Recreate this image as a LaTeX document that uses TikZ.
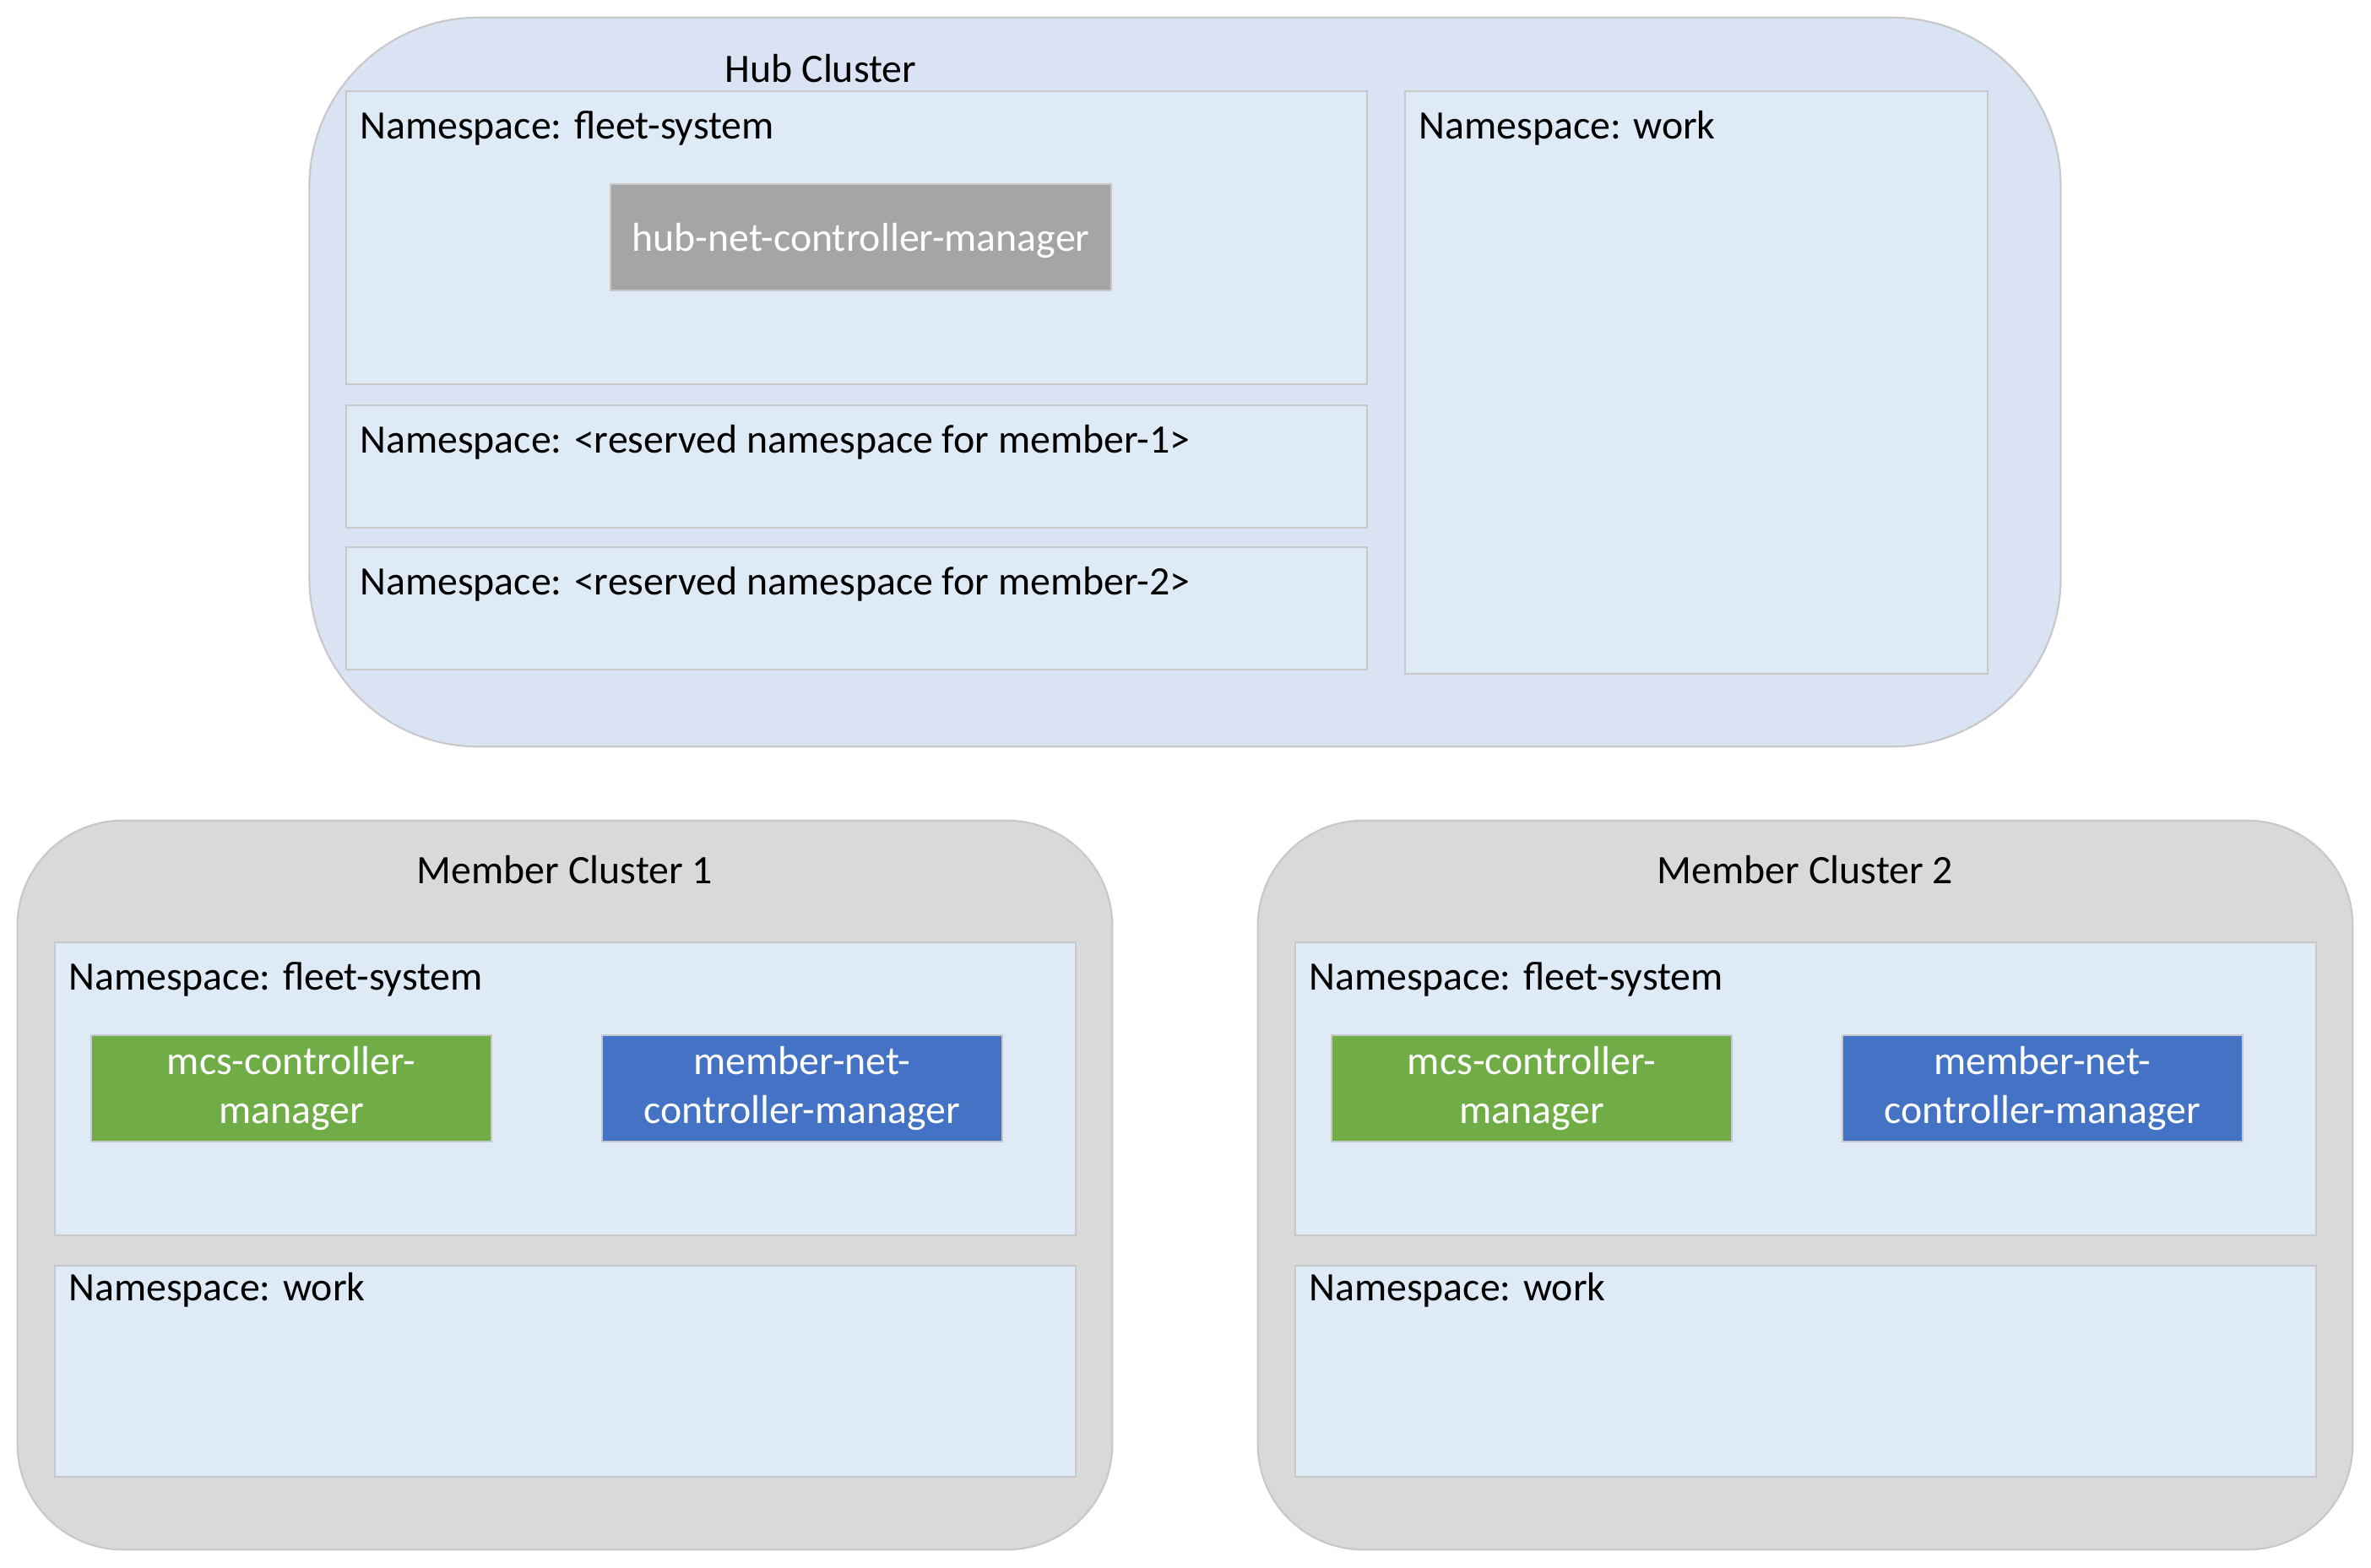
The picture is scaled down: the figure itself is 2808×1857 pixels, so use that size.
\documentclass[tikz,border=0pt]{standalone}
\usepackage{fontspec}
\setmainfont{Carlito}
\definecolor{hubfill}{HTML}{DAE3F3}
\definecolor{nsfill}{HTML}{DEEBF7}
\definecolor{memberfill}{HTML}{D9D9D9}
\definecolor{edgegray}{HTML}{C8C8C8}
\definecolor{podgray}{HTML}{A5A5A5}
\definecolor{podgreen}{HTML}{70AD47}
\definecolor{podblue}{HTML}{4472C4}

\begin{document}
\begin{tikzpicture}[x=0.01cm, y=-0.01cm,
			font=\fontsize{13.6}{16.6}\selectfont,
			clusterbox/.style={
				rectangle,
				draw = edgegray,
				line width = 0.6pt},
			nsbox/.style={
				rectangle,
				draw = edgegray,
				fill = nsfill,
				line width = 0.6pt,
				minimum width = 12.09cm},
			nslabel/.style={
				anchor = base west,
				inner sep = 0pt},
			podbox/.style={
				rectangle,
				draw = edgegray,
				line width = 0.4pt,
				text = white,
				align = center,
				inner sep = 0pt,
				execute at begin node = \rule{0pt}{1.15em},
				minimum width = 4.74cm,
				minimum height = 1.26cm}]
			\useasboundingbox (0, 0) rectangle (2808, 1857);
			% hub cluster
			\node[clusterbox, fill=hubfill, rounded corners=2cm,
				minimum width=20.73cm, minimum height=8.63cm] (hub) at (1403.5, 452.5) {};
			\node[anchor=base] (hubtitle) at (972, 97) {Hub Cluster};
			\node[nsbox, minimum height=3.47cm] (hubfleet) at (1014.5, 281.5) {};
			\node[nslabel] (hubfleetlabel) at ([shift={(17, 58)}]hubfleet.north west) {Namespace: fleet-system};
			\node[podbox, fill=podgray, minimum width=5.93cm,
				text height=0.43cm, text depth=0.1cm] (hubnet) at (1019.5, 281) {hub-net-controller-manager};
			\node[nsbox, minimum height=1.45cm] (hubres1) at (1014.5, 552.5) {};
			\node[nslabel] (hubres1label) at ([shift={(17, 58)}]hubres1.north west) {Namespace: <reserved namespace for member-1>};
			\node[nsbox, minimum height=1.45cm] (hubres2) at (1014.5, 720.5) {};
			\node[nslabel] (hubres2label) at ([shift={(17, 58)}]hubres2.north west) {Namespace: <reserved namespace for member-2>};
			\node[nsbox, minimum width=6.90cm, minimum height=6.90cm] (hubwork) at (2009, 453) {};
			\node[nslabel] (hubworklabel) at ([shift={(17, 58)}]hubwork.north west) {Namespace: work};
			% member clusters
			\foreach \i/\dx in {1/0, 2/1469} {
				\node[clusterbox, fill=memberfill, rounded corners=1.25cm,
					minimum width=12.96cm, minimum height=8.63cm] (m\i) at (669+\dx, 1403.5) {};
				\node[anchor=base] (m\i title) at (669+\dx, 1046) {Member Cluster \i};
				\node[nsbox, minimum height=3.47cm] (m\i fleet) at (669.5+\dx, 1289.5) {};
				\node[nslabel] (m\i fleetlabel) at ([shift={(17, 58)}]m\i fleet.north west) {Namespace: fleet-system};
				\node[podbox, fill=podgreen] (m\i mcs) at (345+\dx, 1289) {mcs-controller-\\manager};
				\node[podbox, fill=podblue] (m\i net) at (950+\dx, 1289) {member-net-\\controller-manager};
				\node[nsbox, minimum height=2.50cm] (m\i work) at (669.5+\dx, 1624) {};
				\node[nslabel] (m\i worklabel) at ([shift={(17, 43)}]m\i work.north west) {Namespace: work};
			}
			\end{tikzpicture}
\end{document}
